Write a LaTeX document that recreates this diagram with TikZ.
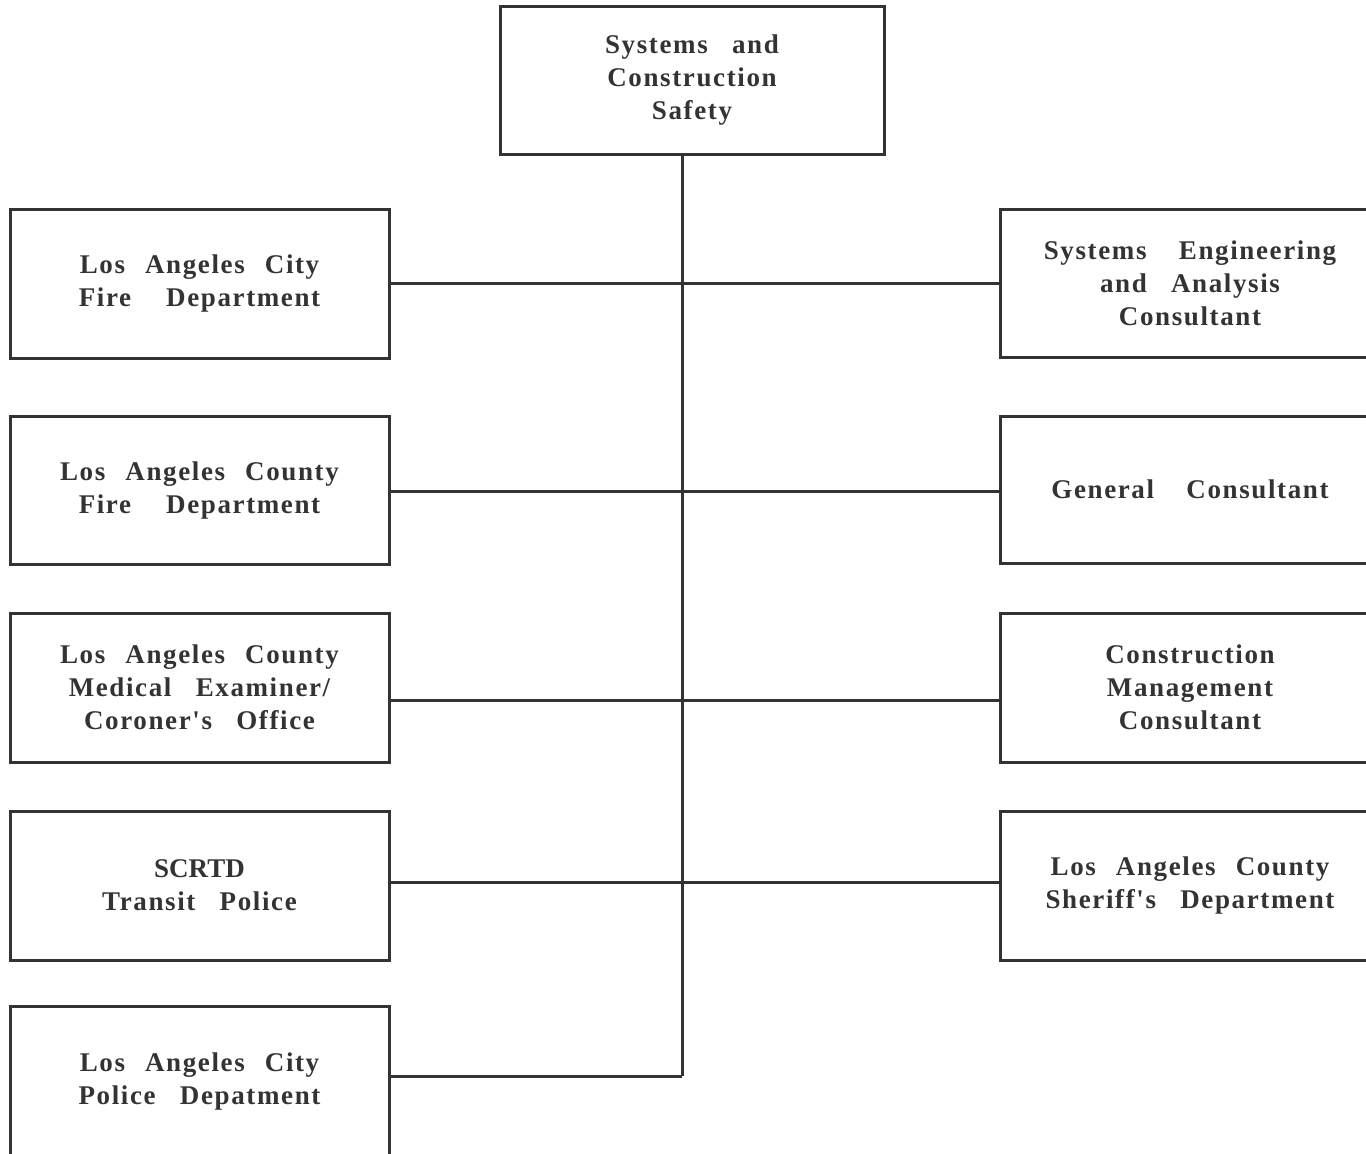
\documentclass[tikz,border=0pt]{standalone}
\usepackage{fontspec}
\setmainfont{Liberation Serif}
\newfontfamily\boxfont[LetterSpace=6,WordSpace=2.4]{Liberation Serif Bold}
\newfontfamily\plainfont{Liberation Serif}
\definecolor{ink}{HTML}{333333}
\newcommand{\wgap}{\hspace{0.9em}}
\begin{document}
\begin{tikzpicture}[x=0.5pt,y=-0.5pt,
  orgbox/.style={draw=ink,line width=1.5pt,rectangle,align=center,text=ink,
    inner sep=0pt,font=\boxfont\fontsize{13.5}{16.5}\selectfont},
  link/.style={draw=ink,line width=1.5pt}]
\useasboundingbox (0,0) rectangle (1366,1153);
\clip (0,0) rectangle (1366,1153);
% top
\node[orgbox,minimum width=192pt,minimum height=74pt] (top) at (692,80) {Systems\wgap and\\Construction\\Safety};
% left column
\node[orgbox,minimum width=189.5pt,minimum height=74.5pt] (L1) at (199.5,283.5) {Los Angeles City\\Fire\hspace{1.3em}Department};
\node[orgbox,minimum width=189.5pt,minimum height=74pt] (L2) at (199.5,490) {Los Angeles County\\Fire\hspace{1.3em}Department};
\node[orgbox,minimum width=189.5pt,minimum height=74.5pt] (L3) at (199.5,687.5) {Los Angeles County\\Medical\wgap Examiner/\\Coroner's\wgap Office};
\node[orgbox,minimum width=189.5pt,minimum height=74.5pt] (L4) at (199.5,885.5) {{\plainfont\bfseries SCRTD}\\Transit\wgap Police};
\node[orgbox,minimum width=189.5pt,minimum height=75pt] (L5) at (199.5,1081) {Los Angeles City\\Police\wgap Depatment};
% right column
\node[orgbox,minimum width=190pt,minimum height=74pt] (R1) at (1190,283) {Systems\hspace{1.2em}Engineering\\and\wgap Analysis\\Consultant};
\node[orgbox,minimum width=190pt,minimum height=73.5pt] (R2) at (1190,489.5) {General\hspace{1.2em}Consultant};
\node[orgbox,minimum width=190pt,minimum height=74.5pt] (R3) at (1190,687.5) {Construction\\Management\\Consultant};
\node[orgbox,minimum width=190pt,minimum height=74.5pt] (R4) at (1190,885.5) {Los Angeles County\\Sheriff's\wgap Department};
% spine coordinates
\coordinate (s0) at (682,154);
\coordinate (r1) at (682,283);
\coordinate (r2) at (682,491);
\coordinate (r3) at (682,700);
\coordinate (r4) at (682,882);
\coordinate (r5) at (682,1076);
% connectors
\draw[link] (top.south -| s0) -- (r5);
\draw[link] (L1.east |- r1) -- (R1.west |- r1);
\draw[link] (L2.east |- r2) -- (R2.west |- r2);
\draw[link] (L3.east |- r3) -- (R3.west |- r3);
\draw[link] (L4.east |- r4) -- (R4.west |- r4);
\draw[link] (L5.east |- r5) -- (r5);
\end{tikzpicture}
\end{document}
